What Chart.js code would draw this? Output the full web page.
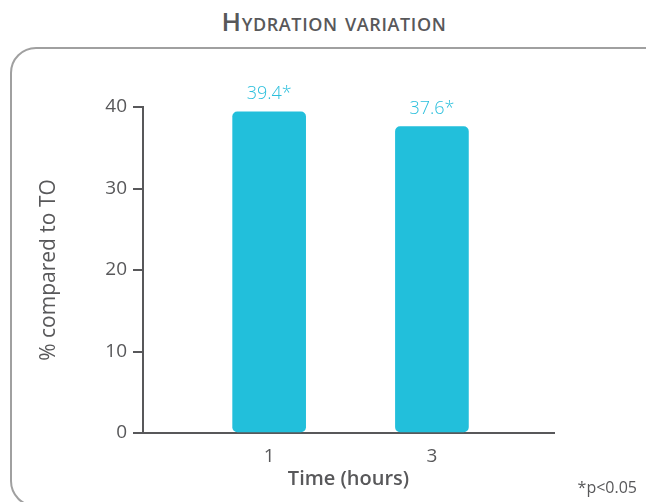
<!DOCTYPE html>
<html>
<head>
<meta charset="utf-8">
<script src="https://cdn.jsdelivr.net/npm/chart.js@4/dist/chart.umd.min.js"></script>
<style>
	body { margin: 0; background: #fff; font-family: "Open Sans", sans-serif; }
	#page { position: relative; width: 646px; height: 502px; overflow: hidden; }
	#chart-title {
		position: absolute; left: 0; top: 3px; width: 668px; text-align: center;
		font-size: 26px; font-weight: 600; font-variant: small-caps; color: #58585a;
		letter-spacing: 0.6px;
	}
	#chart-box {
		position: absolute; left: 10px; top: 47px; width: 668px; height: 456px;
		border: 2px solid #a0a0a0; border-radius: 26px;
	}
	#chart-wrap { position: absolute; left: 0; top: 0; width: 646px; height: 502px; }
	#footnote {
		position: absolute; right: 9px; top: 477px; font-size: 16px; line-height: 20px;
		color: #58585a;
	}
</style>
</head>
<body>
<div id="page">
	<div id="chart-title">Hydration variation</div>
	<div id="chart-box"></div>
	<div id="chart-wrap"><canvas id="hydration-chart"></canvas></div>
	<div id="footnote">*p&lt;0.05</div>
</div>
<script>
// data -----------------------------------------------------------------------/
const timeHours = [1, 3];
const hydrationPct = [39.4, 37.6];
const significance = ['*', '*'];
const yTicks = [0, 10, 20, 30, 40];

const barColor = '#22bfdb';
const labelColor = '#2bbfdc';
const grey = '#58585a';

// value labels above each bar
const valueLabels = {
	id: 'valueLabels',
	afterDatasetsDraw(chart) {
		const ctx = chart.ctx;
		const meta = chart.getDatasetMeta(0);
		ctx.save();
		ctx.font = '300 18px "Open Sans"';
		ctx.fillStyle = labelColor;
		ctx.textAlign = 'center';
		ctx.textBaseline = 'alphabetic';
		meta.data.forEach(function (bar, i) {
			ctx.fillText(hydrationPct[i] + significance[i], bar.x, bar.y - 13);
		});
		ctx.restore();
	}
};

const ctx = document.getElementById('hydration-chart').getContext('2d');
new Chart(ctx, {
	type: 'bar',
	data: {
		datasets: [{
			data: timeHours.map(function (t, i) { return { x: t, y: hydrationPct[i] }; }),
			backgroundColor: barColor,
			borderRadius: 5,
			borderSkipped: false,
			barThickness: 73
		}]
	},
	options: {
		responsive: true,
		maintainAspectRatio: false,
		animation: false,
		layout: { padding: { left: 36, top: 107, right: 92, bottom: 11 } },
		plugins: {
			legend: { display: false },
			tooltip: { enabled: false }
		},
		scales: {
			x: {
				type: 'linear',
				offset: false,
				min: -0.55,
				max: 4.5,
				afterBuildTicks: function (scale) {
					scale.ticks = timeHours.map(function (v) { return { value: v }; });
				},
				afterFit: function (scale) { scale.height = 58; },
				grid: { display: false, drawTicks: false },
				border: { display: true, color: grey, width: 2 },
				ticks: {
					color: grey,
					padding: 12,
					font: { family: '"Open Sans"', size: 19 },
					callback: function (v) { return String(v); }
				},
				title: {
					display: true,
					text: 'Time (hours)',
					color: grey,
					font: { family: '"Open Sans"', size: 20, weight: '600' },
					padding: 0
				}
			},
			y: {
				min: 0,
				max: 40,
				afterBuildTicks: function (scale) {
					scale.ticks = yTicks.map(function (v) { return { value: v }; });
				},
				afterFit: function (scale) { scale.width = 107; },
				grid: {
					display: true,
					drawOnChartArea: false,
					drawTicks: true,
					tickLength: 10,
					color: grey,
					lineWidth: 2
				},
				border: { display: true, color: grey, width: 2 },
				ticks: {
					color: grey,
					padding: 6,
					font: { family: '"Open Sans"', size: 19 }
				},
				title: {
					display: true,
					text: '% compared to TO',
					color: grey,
					font: { family: '"Open Sans"', size: 21 },
					padding: 0
				}
			}
		}
	},
	plugins: [valueLabels]
});
</script>
</body>
</html>
